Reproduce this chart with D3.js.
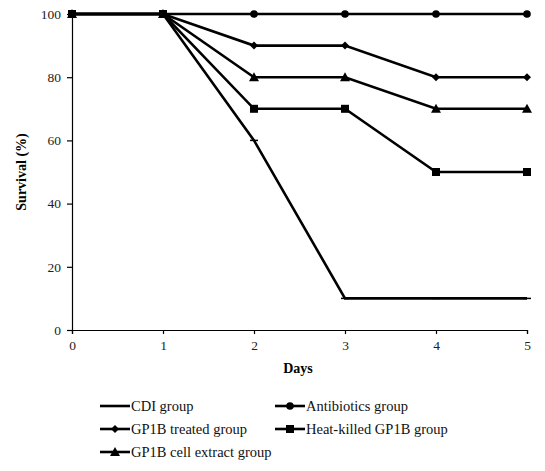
<!DOCTYPE html>
<html><head><meta charset="utf-8">
<script src="https://cdn.jsdelivr.net/npm/d3@7"></script>
<style>body{margin:0;background:#fff}</style>
</head><body><svg id="c" width="545" height="471"></svg>
<script>
const days = [0,1,2,3,4,5];
const cdi = [100,100,60,10,10,10];
const antibiotics = [100,100,100,100,100,100];
const gp1bTreated = [100,100,90,90,80,80];
const heatKilled = [100,100,70,70,50,50];
const cellExtract = [100,100,80,80,70,70];
const seriesNames = ["CDI group","Antibiotics group","GP1B treated group","Heat-killed GP1B group","GP1B cell extract group"];
const yTicks = [0,20,40,60,80,100];
const xTicks = [0,1,2,3,4,5];
const FONT = "Liberation Serif";

const series = [
  {name:seriesNames[0], values:cdi, marker:"dash"},
  {name:seriesNames[1], values:antibiotics, marker:"circle"},
  {name:seriesNames[2], values:gp1bTreated, marker:"diamond"},
  {name:seriesNames[3], values:heatKilled, marker:"square"},
  {name:seriesNames[4], values:cellExtract, marker:"triangle"}
];

const svg = d3.select("#c");
const x = d3.scaleLinear().domain([0,5]).range([72,527]);
const y = d3.scaleLinear().domain([0,100]).range([330,14]);

const xAxis = svg.append("g").attr("transform","translate(0,330)")
  .call(d3.axisBottom(x).tickValues(xTicks).tickSize(4).tickPadding(6).tickFormat(d3.format("d")));
const yAxis = svg.append("g").attr("transform","translate(72,0)")
  .call(d3.axisLeft(y).tickValues(yTicks).tickSize(5).tickPadding(6).tickFormat(d3.format("d")));
[xAxis,yAxis].forEach(a=>{
  a.attr("font-family",FONT).attr("font-size",13.5);
  a.select(".domain").attr("stroke","#000").attr("stroke-width",1.2);
  a.selectAll(".tick line").attr("stroke","#000").attr("stroke-width",1.2);
  a.selectAll("text").attr("fill","#222");
});

svg.append("text").attr("x",298).attr("y",373).attr("text-anchor","middle").attr("font-family",FONT)
  .attr("font-size",14).attr("font-weight","bold").text("Days");
svg.append("text").attr("transform","translate(26,172) rotate(-90)").attr("text-anchor","middle").attr("font-family",FONT)
  .attr("font-size",14).attr("font-weight","bold").text("Survival (%)");

function drawMarker(g, type, cx, cy){
  if(type==="circle") g.append("circle").attr("cx",cx).attr("cy",cy).attr("r",3.8).attr("fill","#000");
  else if(type==="square") g.append("rect").attr("x",cx-4).attr("y",cy-4).attr("width",8).attr("height",8).attr("fill","#000");
  else if(type==="diamond") g.append("path").attr("d",`M${cx},${cy-4}L${cx+4},${cy}L${cx},${cy+4}L${cx-4},${cy}Z`).attr("fill","#000");
  else if(type==="triangle") g.append("path").attr("d",`M${cx},${cy-5}L${cx+5},${cy+4}L${cx-5},${cy+4}Z`).attr("fill","#000");
  else if(type==="dash") g.append("line").attr("x1",cx-4).attr("x2",cx+4).attr("y1",cy).attr("y2",cy).attr("stroke","#000").attr("stroke-width",1.5);
}

const line = d3.line().x((d,i)=>x(days[i])).y(d=>y(d));
const order = [0,4,3,2,1];
order.forEach(k=>{
  const s = series[k];
  const g = svg.append("g");
  g.append("path").attr("d",line(s.values)).attr("fill","none").attr("stroke","#000").attr("stroke-width",2.6).attr("stroke-linejoin","miter");
  s.values.forEach((v,i)=>drawMarker(g,s.marker,x(days[i]),y(v)));
});

// legend
const legPos = [[100,406],[275,406],[100,429],[275,429],[100,452]];
series.forEach((s,k)=>{
  const [lx,ly] = legPos[k];
  const g = svg.append("g");
  g.append("line").attr("x1",lx).attr("x2",lx+30).attr("y1",ly).attr("y2",ly).attr("stroke","#000").attr("stroke-width",2.6);
  drawMarker(g,s.marker,lx+15,ly);
  g.append("text").attr("x",lx+31).attr("y",ly+5).attr("font-size",14.5).attr("fill","#111").attr("font-family",FONT).text(s.name);
});
</script></body></html>
